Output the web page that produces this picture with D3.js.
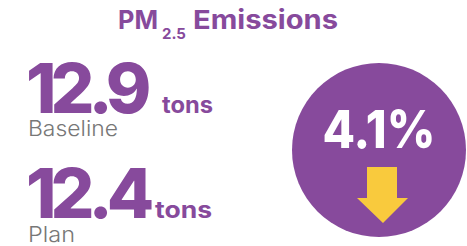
<!DOCTYPE html>
<html>
<head>
<meta charset="utf-8">
<script src="https://cdn.jsdelivr.net/npm/d3@7"></script>
<style>
  html, body { margin: 0; padding: 0; background: #fff; }
  svg { display: block; font-family: Inter, "Open Sans", sans-serif; }
</style>
</head>
<body>
<svg id="svg1" width="467" height="246"></svg>
<script>
// data
var labels = ['Baseline', 'Plan'];
var values = [12.9, 12.4];
var unit = 'tons';
var changePct = 4.1;

var purple = '#874a9c';
var yellow = '#f9ca3d';

var svg = d3.select('#svg1');

// title, pieces placed one by one
svg.append('text')
    .attr('x', 118).attr('y', 29)
    .attr('fill', purple)
    .attr('font-size', 26).attr('font-weight', 700)
    .attr('textLength', 40).attr('lengthAdjust', 'spacingAndGlyphs')
    .text('PM');
svg.append('text')
    .attr('x', 162).attr('y', 39)
    .attr('fill', purple)
    .attr('font-size', 15).attr('font-weight', 700)
    .text('2.5');
svg.append('text')
    .attr('x', 193).attr('y', 29)
    .attr('fill', purple)
    .attr('font-size', 26).attr('font-weight', 700)
    .attr('textLength', 145).attr('lengthAdjust', 'spacingAndGlyphs')
    .text('Emissions');

// rows, one per value
var y = d3.scalePoint()
    .domain(labels)
    .range([62, 167]);

var rows = svg.selectAll('g.row')
    .data(labels)
    .enter()
    .append('g')
    .attr('class', 'row')
    .attr('transform', function(d){ return 'translate(26,' + y(d) + ')'; });

rows.append('text')
    .attr('class', 'value')
    .attr('y', 51)
    .attr('fill', purple)
    .attr('font-size', 69)
    .attr('font-weight', 800)
    .attr('letter-spacing', -6)
    .text(function(d, i){ return d3.format('.1f')(values[i]); });

rows.append('text')
    .attr('class', 'unit')
    .attr('x', function(d, i){ return i === 0 ? 136 : 129; })
    .attr('y', 51)
    .attr('fill', purple)
    .attr('font-size', 23)
    .attr('font-weight', 700)
    .attr('textLength', function(d, i){ return i === 0 ? 51 : 57; })
    .attr('lengthAdjust', 'spacingAndGlyphs')
    .text(unit);

rows.append('text')
    .attr('class', 'label')
    .attr('x', 2)
    .attr('y', function(d, i){ return i === 0 ? 74 : 75; })
    .attr('fill', '#777')
    .attr('font-size', 22)
    .attr('font-weight', 300)
    .attr('textLength', function(d, i){ return i === 0 ? 90 : 47; })
    .attr('lengthAdjust', 'spacingAndGlyphs')
    .text(function(d){ return d; });

// badge
var cx = 379, cy = 150, r = 87;
svg.append('circle')
    .attr('cx', cx)
    .attr('cy', cy)
    .attr('r', r)
    .attr('fill', purple);

svg.append('text')
    .attr('x', cx)
    .attr('y', 148)
    .attr('text-anchor', 'middle')
    .attr('fill', '#fff')
    .attr('font-size', 52)
    .attr('font-weight', 800)
    .attr('textLength', 113)
    .attr('lengthAdjust', 'spacingAndGlyphs')
    .text(d3.format('.1f')(changePct) + '%');

// down arrow
var arrow = d3.path();
arrow.moveTo(cx - 12, 167);
arrow.lineTo(cx + 18, 167);
arrow.lineTo(cx + 18, 198);
arrow.lineTo(cx + 29, 198);
arrow.lineTo(cx + 4, 223);
arrow.lineTo(cx - 22, 198);
arrow.lineTo(cx - 12, 198);
arrow.closePath();

svg.append('path')
    .attr('d', arrow.toString())
    .attr('fill', yellow);
</script>
</body>
</html>
